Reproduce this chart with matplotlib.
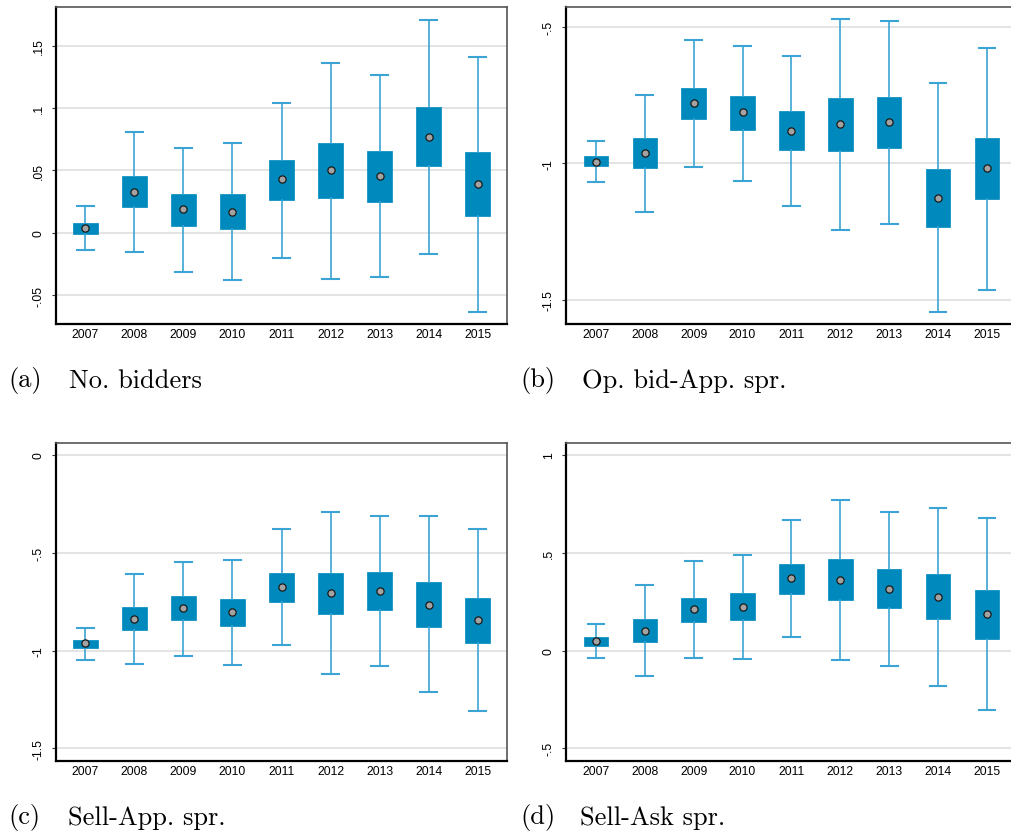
import matplotlib
matplotlib.use("Agg")
import matplotlib.pyplot as plt

years = ["2007", "2008", "2009", "2010", "2011", "2012", "2013", "2014", "2015"]

# Panel (a): No. bidders
a_lo  = [-0.0134, -0.0150, -0.0313, -0.0379, -0.0198, -0.0366, -0.0355, -0.0166, -0.0636]
a_q1  = [-0.0005, 0.0211, 0.0059, 0.0035, 0.0267, 0.0283, 0.0251, 0.0540, 0.0134]
a_mid = [0.0037, 0.0331, 0.0190, 0.0168, 0.0433, 0.0502, 0.0457, 0.0769, 0.0390]
a_q3  = [0.0083, 0.0454, 0.0310, 0.0310, 0.0582, 0.0718, 0.0654, 0.1010, 0.0646]
a_hi  = [0.0214, 0.0812, 0.0681, 0.0721, 0.1044, 0.1365, 0.1266, 0.1709, 0.1413]
a_ticks = [-0.05, 0, 0.05, 0.1, 0.15]
a_ticklabels = ["-.05", "0", ".05", ".1", ".15"]

# Panel (b): Op. bid-App. spr.
b_lo  = [-1.070, -1.177, -1.013, -1.065, -1.156, -1.243, -1.221, -1.546, -1.463]
b_q1  = [-1.012, -1.017, -0.840, -0.878, -0.950, -0.955, -0.943, -1.232, -1.130]
b_mid = [-0.994, -0.962, -0.781, -0.814, -0.881, -0.857, -0.851, -1.126, -1.018]
b_q3  = [-0.973, -0.908, -0.724, -0.754, -0.809, -0.762, -0.758, -1.022, -0.908]
b_hi  = [-0.917, -0.749, -0.549, -0.570, -0.608, -0.473, -0.480, -0.708, -0.577]
b_ticks = [-1.5, -1, -0.5]
b_ticklabels = ["-1.5", "-1", "-.5"]

# Panel (c): Sell-App. spr.
c_lo  = [-1.048, -1.067, -1.027, -1.073, -0.973, -1.121, -1.080, -1.212, -1.311]
c_q1  = [-0.988, -0.894, -0.845, -0.874, -0.751, -0.812, -0.792, -0.879, -0.961]
c_mid = [-0.964, -0.840, -0.785, -0.805, -0.676, -0.706, -0.696, -0.765, -0.845]
c_q3  = [-0.944, -0.780, -0.722, -0.739, -0.606, -0.606, -0.601, -0.652, -0.729]
c_hi  = [-0.884, -0.609, -0.546, -0.538, -0.381, -0.294, -0.314, -0.312, -0.379]
c_ticks = [-1.5, -1, -0.5, 0]
c_ticklabels = ["-1.5", "-1", "-.5", "0"]

# Panel (d): Sell-Ask spr.
d_lo  = [-0.038, -0.131, -0.036, -0.044, 0.067, -0.049, -0.077, -0.183, -0.305]
d_q1  = [0.024, 0.044, 0.147, 0.157, 0.290, 0.259, 0.218, 0.160, 0.060]
d_mid = [0.048, 0.102, 0.212, 0.224, 0.369, 0.363, 0.314, 0.273, 0.186]
d_q3  = [0.068, 0.159, 0.271, 0.292, 0.440, 0.466, 0.415, 0.389, 0.307]
d_hi  = [0.133, 0.336, 0.456, 0.490, 0.669, 0.771, 0.706, 0.730, 0.677]
d_ticks = [-0.5, 0, 0.5, 1]
d_ticklabels = ["-.5", "0", ".5", "1"]

captions = ["(a)", "(b)", "(c)", "(d)"]
titles = ["No. bidders", "Op. bid-App. spr.", "Sell-App. spr.", "Sell-Ask spr."]

BOX = "#0089BC"
WHISK = "#3BA4D4"
GRID = "#E4E4E4"

W, H = 1011, 837
fig = plt.figure(figsize=(W / 100, H / 100), dpi=100)

def ax_rect(l, t, r, b):
    return [l / W, 1 - b / H, (r - l) / W, (b - t) / H]

panels = [
    (ax_rect(56, 8, 507, 325), (a_lo, a_q1, a_mid, a_q3, a_hi), a_ticks, a_ticklabels, (-0.073, 0.181), (0.4, 9.6)),
    (ax_rect(566, 8, 1013, 325), (b_lo, b_q1, b_mid, b_q3, b_hi), b_ticks, b_ticklabels, (-1.589, -0.428), (0.39, 9.53)),
    (ax_rect(56, 444, 507, 762), (c_lo, c_q1, c_mid, c_q3, c_hi), c_ticks, c_ticklabels, (-1.565, 0.061), (0.4, 9.6)),
    (ax_rect(566, 444, 1013, 762), (d_lo, d_q1, d_mid, d_q3, d_hi), d_ticks, d_ticklabels, (-0.565, 1.061), (0.39, 9.53)),
]

positions = list(range(1, len(years) + 1))

for rect, (lo, q1, mid, q3, hi), ticks, tlabels, ylim, xlim in panels:
    ax = fig.add_axes(rect)
    stats = []
    for i in range(len(years)):
        stats.append(dict(whislo=lo[i], q1=q1[i], med=mid[i], q3=q3[i], whishi=hi[i], fliers=[]))
    ax.bxp(stats, positions=positions, widths=0.5, capwidths=0.34, patch_artist=True,
           showfliers=False,
           boxprops=dict(facecolor=BOX, edgecolor=BOX, linewidth=0.5),
           whiskerprops=dict(color=WHISK, linewidth=1.2),
           capprops=dict(color=WHISK, linewidth=1.5),
           medianprops=dict(linewidth=0, color=BOX), zorder=3)
    ax.plot(positions, mid, linestyle="none", marker="o", markersize=5.2,
            markerfacecolor="#A3A3A3", markeredgecolor="#1a1a1a", markeredgewidth=0.9, zorder=5)
    ax.set_xlim(*xlim)
    ax.set_ylim(*ylim)
    ax.set_yticks(ticks)
    ax.set_yticklabels(tlabels, rotation=90, va="center", fontsize=8.8, family="Liberation Sans")
    ax.set_xticks(positions)
    ax.set_xticklabels(years, fontsize=8.8, family="Liberation Sans")
    for t in ticks:
        ax.axhline(t, color=GRID, linewidth=1.4, zorder=0)
    ax.tick_params(axis="y", length=3, width=0.8, pad=5, color="#333333")
    ax.tick_params(axis="x", length=0, pad=3)
    for s in ["left", "bottom"]:
        ax.spines[s].set_linewidth(1.6)
        ax.spines[s].set_color("black")
    for s in ["top", "right"]:
        ax.spines[s].set_linewidth(1.2)
        ax.spines[s].set_color("#555555")

cap_pos = [(8, 69, 381), (520, 582, 381), (8, 68, 818), (520, 580, 818)]
for (xc, xt, yc), c, t in zip(cap_pos, captions, titles):
    fig.text(xc / W, 1 - yc / H, c, fontsize=19, family="cmr10", va="center", ha="left")
    fig.text(xt / W, 1 - yc / H, t, fontsize=19, family="cmr10", va="center", ha="left")

fig.savefig("out.png", dpi=100)
